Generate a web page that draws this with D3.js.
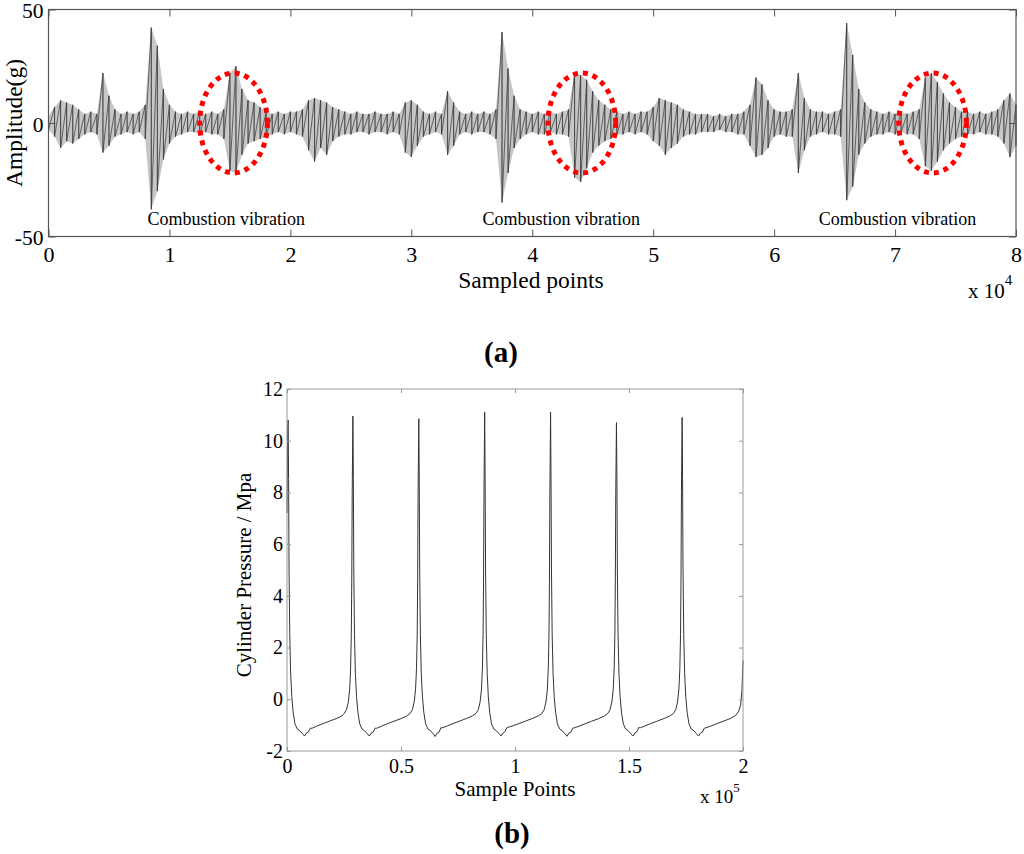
<!DOCTYPE html>
<html><head><meta charset="utf-8">
<script src="https://cdn.jsdelivr.net/npm/d3@7"></script>
<style>
html,body{margin:0;padding:0;background:#fff;}
svg{display:block;font-family:"Liberation Serif","Times New Roman",serif;}
</style></head>
<body>
<svg id="chart" width="1024" height="854"></svg>
<script>
// ---------- (a) vibration signal: envelope read every 0.05 x 10^4 samples ----------
const vibStep = 0.05;
const vibUpper = [
  3,7,10,9,8,6,4,5,4,22,12,6,4,5,4,5,8,42,34,15,
  8,5,4,5,4,5,4,5,4,6,22,25,15,10,9,7,5,4,5,4,
  5,5,6,10,11,10,9,7,6,5,4,5,4,4,5,4,4,5,4,9,
  10,8,5,4,5,4,14,9,5,4,5,4,5,4,6,40,24,12,6,5,
  4,5,4,5,4,5,6,22,21,19,14,10,8,6,5,4,5,4,5,5,
  7,11,10,9,8,6,5,4,4,4,3,4,3,4,4,5,8,20,17,10,
  6,5,5,6,22,11,6,5,5,4,5,6,44,30,15,9,6,5,4,5,
  4,5,4,5,6,20,22,18,13,9,7,5,5,4,5,4,5,6,10,13,
  8];
const vibLower = [
  -3,-6,-11,-8,-9,-7,-5,-4,-5,-13,-10,-6,-5,-4,-5,-4,-7,-38,-30,-16,
  -9,-6,-5,-4,-4,-5,-4,-5,-5,-7,-21,-22,-14,-9,-8,-7,-6,-5,-4,-5,
  -4,-5,-6,-12,-17,-11,-14,-8,-6,-5,-5,-4,-4,-5,-4,-4,-5,-4,-5,-13,
  -15,-10,-6,-5,-4,-5,-14,-10,-5,-4,-5,-4,-4,-5,-7,-35,-22,-11,-7,-5,
  -4,-5,-5,-4,-5,-5,-6,-24,-26,-20,-13,-10,-8,-7,-5,-5,-4,-5,-4,-5,
  -8,-10,-14,-11,-9,-6,-5,-5,-4,-4,-4,-3,-4,-4,-5,-5,-10,-15,-14,-11,
  -6,-5,-6,-6,-22,-12,-6,-5,-4,-5,-5,-6,-34,-28,-14,-9,-6,-5,-5,-4,
  -5,-4,-5,-5,-7,-19,-21,-17,-12,-9,-7,-6,-5,-5,-4,-5,-5,-6,-9,-15,
  -10];
const vibXTicks = [0,1,2,3,4,5,6,7,8];
const vibYTicks = [-50,0,50];
const ellipseCx = [1.53, 4.41, 7.31];   // x 10^4
const ellipseRx = 0.28;                 // x 10^4
const ellipseRy = 22;                   // g
const annotX = [1.47, 4.24, 7.02];
const annotY = -45;
const annotText = "Combustion vibration";

// ---------- (b) cylinder pressure ----------
const presX = [
  0.000,0.003,0.005,0.007,0.009,0.012,0.016,0.021,0.027,0.035,0.045,0.057,0.068,0.077,0.086,0.094,0.102,0.110,0.130,0.155,0.185,0.215,0.240,
  0.251,0.261,0.269,0.275,0.279,0.282,0.284,0.286,0.289,
  0.291,0.293,0.296,0.300,0.305,0.311,0.319,0.329,0.341,0.352,0.361,0.370,0.378,0.386,0.394,0.414,0.439,0.469,0.499,0.524,
  0.540,0.550,0.558,0.564,0.568,0.571,0.573,0.575,0.578,
  0.580,0.582,0.585,0.589,0.594,0.600,0.608,0.618,0.630,0.641,0.650,0.659,0.667,0.675,0.683,0.703,0.728,0.758,0.788,0.813,
  0.829,0.839,0.847,0.853,0.857,0.860,0.862,0.864,0.867,
  0.869,0.871,0.874,0.878,0.883,0.889,0.897,0.907,0.919,0.930,0.939,0.948,0.956,0.964,0.972,0.992,1.017,1.047,1.077,1.102,
  1.118,1.128,1.136,1.142,1.146,1.149,1.151,1.153,1.156,
  1.158,1.160,1.163,1.167,1.172,1.178,1.186,1.196,1.208,1.219,1.228,1.237,1.245,1.253,1.261,1.281,1.306,1.336,1.366,1.391,
  1.407,1.417,1.425,1.431,1.435,1.438,1.440,1.442,1.445,
  1.447,1.449,1.452,1.456,1.461,1.467,1.475,1.485,1.497,1.508,1.517,1.526,1.534,1.542,1.550,1.570,1.595,1.625,1.655,1.680,
  1.695,1.705,1.713,1.719,1.723,1.726,1.728,1.730,1.733,
  1.735,1.737,1.740,1.744,1.749,1.755,1.763,1.773,1.785,1.796,1.805,1.814,1.822,1.830,1.838,1.858,1.883,1.913,1.943,1.968,
  1.982,1.990,1.995,2.000];
const presY = [
  7.2,10.5,10.8,8.5,5.0,2.5,1.0,0.1,-0.5,-0.95,-1.15,-1.22,-1.33,-1.42,-1.3,-1.27,-1.12,-1.12,-1.04,-0.95,-0.85,-0.75,-0.65,
  -0.55,-0.4,-0.1,0.4,1.2,2.5,4.5,8.0,10.95,
  8.5,5.0,2.5,1.0,0.1,-0.5,-0.95,-1.15,-1.22,-1.33,-1.42,-1.3,-1.27,-1.12,-1.12,-1.04,-0.95,-0.85,-0.75,-0.65,
  -0.55,-0.4,-0.1,0.4,1.2,2.5,4.5,8.0,10.85,
  8.5,5.0,2.5,1.0,0.1,-0.5,-0.95,-1.15,-1.22,-1.33,-1.44,-1.3,-1.27,-1.1,-1.1,-1.03,-0.94,-0.84,-0.74,-0.64,
  -0.55,-0.4,-0.1,0.4,1.2,2.5,4.5,8.0,11.1,
  8.5,5.0,2.5,1.0,0.1,-0.5,-0.95,-1.15,-1.22,-1.33,-1.42,-1.3,-1.25,-1.1,-1.08,-1.02,-0.94,-0.84,-0.74,-0.64,
  -0.55,-0.4,-0.1,0.4,1.2,2.5,4.5,8.0,11.1,
  8.5,5.0,2.5,1.0,0.1,-0.5,-0.95,-1.15,-1.22,-1.33,-1.43,-1.3,-1.27,-1.12,-1.1,-1.04,-0.95,-0.85,-0.75,-0.65,
  -0.55,-0.4,-0.1,0.4,1.2,2.5,4.5,8.0,10.7,
  8.5,5.0,2.5,1.0,0.1,-0.5,-0.95,-1.15,-1.22,-1.33,-1.42,-1.3,-1.26,-1.1,-1.1,-1.03,-0.94,-0.84,-0.74,-0.64,
  -0.55,-0.4,-0.1,0.4,1.2,2.5,4.5,8.0,10.9,
  8.5,5.0,2.5,1.0,0.1,-0.5,-0.95,-1.15,-1.22,-1.33,-1.42,-1.3,-1.27,-1.12,-1.1,-1.04,-0.95,-0.85,-0.75,-0.62,
  -0.45,-0.2,0.3,1.5];
const presXTicks = [0,0.5,1,1.5,2];
const presYTicks = [-2,0,2,4,6,8,10,12];

// ================= drawing =================
const svg = d3.select("#chart");
const fmt = d => String(d);   // plain hyphen-minus like the reference

// ----- panel (a)
const xa = d3.scaleLinear().domain([0,8]).range([48.5,1016]);
const ya = d3.scaleLinear().domain([-50,50]).range([236.5,9.5]);
const ga = svg.append("g");

const vib = vibUpper.map((u,i)=>({x:i*vibStep, u:u, l:vibLower[i]}));
ga.append("path").datum(vib)
  .attr("d", d3.area().x(d=>xa(d.x)).y0(d=>ya(d.l)).y1(d=>ya(d.u)))
  .attr("fill","#c6c6c6");
ga.selectAll("line.vib").data(vib).join("line")
  .attr("x1", d=>xa(d.x)).attr("x2", d=>xa(d.x))
  .attr("y1", d=>ya(d.l)).attr("y2", d=>ya(d.u))
  .attr("stroke","#7a7a7a").attr("stroke-width",1);
const zig = [];
vib.forEach(d=>{ zig.push([d.x,d.u]); zig.push([d.x,d.l]); });
ga.append("path").datum(zig)
  .attr("d", d3.line().x(d=>xa(d[0])).y(d=>ya(d[1])))
  .attr("fill","none").attr("stroke","#333").attr("stroke-width",0.7);

// ellipses
ga.selectAll("ellipse.comb").data(ellipseCx).join("ellipse")
  .attr("cx", d=>xa(d)).attr("cy", ya(0))
  .attr("rx", xa(ellipseRx)-xa(0)).attr("ry", ya(0)-ya(ellipseRy))
  .attr("fill","none").attr("stroke","#ff0000").attr("stroke-width",5)
  .attr("stroke-dasharray","5,5");

ga.selectAll("text.annot").data(annotX).join("text")
  .attr("x", d=>xa(d)).attr("y", ya(annotY))
  .attr("text-anchor","middle").attr("font-size",18).attr("fill","#000")
  .text(annotText);

// axes (a)
function styleAxis(g, fs, col){
  g.select(".domain").remove();
  g.selectAll(".tick line").attr("stroke",col);
  g.selectAll(".tick text").attr("fill","#000").attr("font-size",fs)
    .attr("font-family","Liberation Serif, Times New Roman, serif");
}
ga.append("g").attr("transform",`translate(0,${ya(-50)})`)
  .call(d3.axisBottom(xa).tickValues(vibXTicks).tickFormat(fmt).tickSizeInner(-7).tickSizeOuter(0).tickPadding(10))
  .call(g=>styleAxis(g,22,"#555"));
ga.append("g").attr("transform",`translate(0,${ya(50)})`)
  .call(d3.axisTop(xa).tickValues(vibXTicks).tickFormat("").tickSizeInner(-7).tickSizeOuter(0))
  .call(g=>styleAxis(g,22,"#555"));
ga.append("g").attr("transform",`translate(${xa(0)},0)`)
  .call(d3.axisLeft(ya).tickValues(vibYTicks).tickFormat(fmt).tickSizeInner(-7).tickSizeOuter(0).tickPadding(5))
  .call(g=>styleAxis(g,21.5,"#555"))
  .call(g=>g.selectAll(".tick text").attr("dy","0.38em"));
ga.append("g").attr("transform",`translate(${xa(8)},0)`)
  .call(d3.axisRight(ya).tickValues(vibYTicks).tickFormat("").tickSizeInner(-7).tickSizeOuter(0))
  .call(g=>styleAxis(g,22,"#555"));
ga.append("rect").attr("x",xa(0)).attr("y",ya(50)).attr("width",xa(8)-xa(0)).attr("height",ya(-50)-ya(50))
  .attr("fill","none").attr("stroke","#555").attr("stroke-width",1.2);

ga.append("text").attr("transform",`translate(${22},${ya(0)}) rotate(-90)`)
  .attr("text-anchor","middle").attr("font-size",23.5).text("Amplitude(g)");
ga.append("text").attr("x",531).attr("y",288).attr("text-anchor","middle").attr("font-size",23.5).text("Sampled points");
const ea = ga.append("text").attr("x",968).attr("y",298).attr("font-size",21);
ea.append("tspan").text("x 10");
ea.append("tspan").attr("dy",-13).attr("font-size",15).text("4");
ga.append("text").attr("x",501).attr("y",362).attr("text-anchor","middle").attr("font-size",29).attr("font-weight","bold")
  .html('(<tspan>a</tspan>)');

// ----- panel (b)
const xb = d3.scaleLinear().domain([0,2]).range([287,743]);
const yb = d3.scaleLinear().domain([-2,12]).range([751,389]);
const gb = svg.append("g");
gb.append("path").datum(presX.map((x,i)=>[x,presY[i]]))
  .attr("d", d3.line().x(d=>xb(d[0])).y(d=>yb(d[1])))
  .attr("fill","none").attr("stroke","#333").attr("stroke-width",1);

gb.append("g").attr("transform",`translate(0,${yb(-2)})`)
  .call(d3.axisBottom(xb).tickValues(presXTicks).tickFormat(fmt).tickSizeInner(-4).tickSizeOuter(0).tickPadding(8))
  .call(g=>styleAxis(g,20,"#999"));
gb.append("g").attr("transform",`translate(0,${yb(12)})`)
  .call(d3.axisTop(xb).tickValues(presXTicks).tickFormat("").tickSizeInner(-4).tickSizeOuter(0))
  .call(g=>styleAxis(g,20,"#999"));
gb.append("g").attr("transform",`translate(${xb(0)},0)`)
  .call(d3.axisLeft(yb).tickValues(presYTicks).tickFormat(fmt).tickSizeInner(-4).tickSizeOuter(0).tickPadding(4))
  .call(g=>styleAxis(g,20,"#999"));
gb.append("g").attr("transform",`translate(${xb(2)},0)`)
  .call(d3.axisRight(yb).tickValues(presYTicks).tickFormat("").tickSizeInner(-4).tickSizeOuter(0))
  .call(g=>styleAxis(g,20,"#999"));
gb.append("rect").attr("x",xb(0)).attr("y",yb(12)).attr("width",xb(2)-xb(0)).attr("height",yb(-2)-yb(12))
  .attr("fill","none").attr("stroke","#999").attr("stroke-width",1);

gb.append("text").attr("transform",`translate(${251},${575}) rotate(-90)`)
  .attr("text-anchor","middle").attr("font-size",21).text("Cylinder Pressure / Mpa");
gb.append("text").attr("x",515).attr("y",796).attr("text-anchor","middle").attr("font-size",21).text("Sample Points");
const eb = gb.append("text").attr("x",700).attr("y",803).attr("font-size",19);
eb.append("tspan").text("x 10");
eb.append("tspan").attr("dy",-11).attr("font-size",13).text("5");
gb.append("text").attr("x",512).attr("y",843).attr("text-anchor","middle").attr("font-size",29).attr("font-weight","bold")
  .html('(<tspan>b</tspan>)');
</script>
</body></html>
